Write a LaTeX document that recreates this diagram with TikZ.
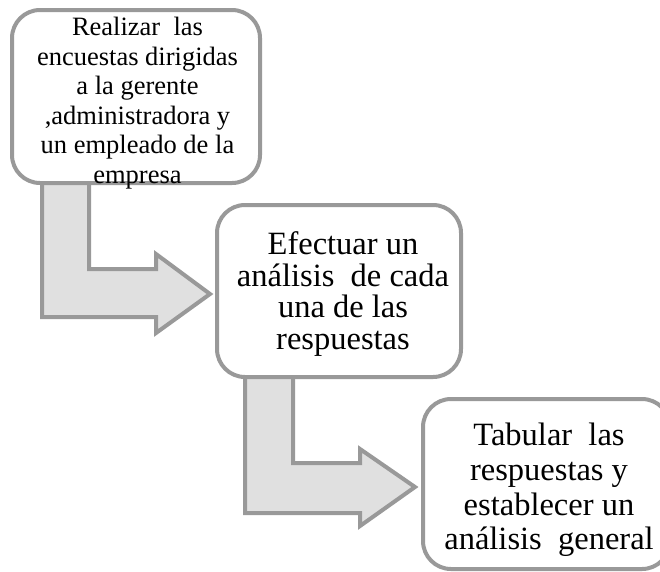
\documentclass[tikz,border=0pt]{standalone}
\usepackage{fontspec}
\setmainfont{Liberation Serif}
\definecolor{edgegray}{HTML}{999999}
\definecolor{arrowfill}{HTML}{E0E0E0}
\tikzset{
  stepbox/.style={draw=edgegray, line width=4pt, fill=white, rounded corners=28pt,
    inner sep=0pt},
  steptext/.style={align=center, inner sep=0pt, text=black},
  bendarrow/.style={draw=edgegray, line width=4pt, fill=arrowfill, line join=miter},
}
\begin{document}
\begin{tikzpicture}[x=1pt,y=-1pt]
\useasboundingbox (0,0) rectangle (660,571);
% arrows (behind boxes)
\draw[bendarrow] (42,180) -- (89,180) -- (89,269) -- (156,269) -- (156,254) -- (210,294)
  -- (156,333) -- (156,317) -- (42,317) -- cycle;
\draw[bendarrow] (245,374) -- (293,374) -- (293,463) -- (360,463) -- (360,449) -- (415,487)
  -- (360,526) -- (360,513) -- (245,513) -- cycle;
% boxes
\node[stepbox, minimum width=248pt, minimum height=173pt] (b1) at (136,96.5) {};
\node[stepbox, minimum width=244pt, minimum height=172pt] (b2) at (339,291) {};
\node[stepbox, minimum width=247pt, minimum height=170pt] (b3) at (546.5,484) {};
% texts
\node[steptext, font=\fontsize{26.5}{29.5}\selectfont] (t1) at (137.5,103)
  {Realizar\ \ las\\encuestas dirigidas\\a la gerente\\,administradora y\\un empleado de la\\empresa};
\node[steptext, font=\fontsize{32.5}{31.5}\selectfont] (t2) at (343,294)
  {Efectuar un\\análisis\ \ de cada\\una de las\\respuestas};
\node[steptext, font=\fontsize{32.5}{34.7}\selectfont] (t3) at (549,490)
  {Tabular\ \ las\\respuestas y\\establecer un\\análisis\ \ general};
\end{tikzpicture}
\end{document}
